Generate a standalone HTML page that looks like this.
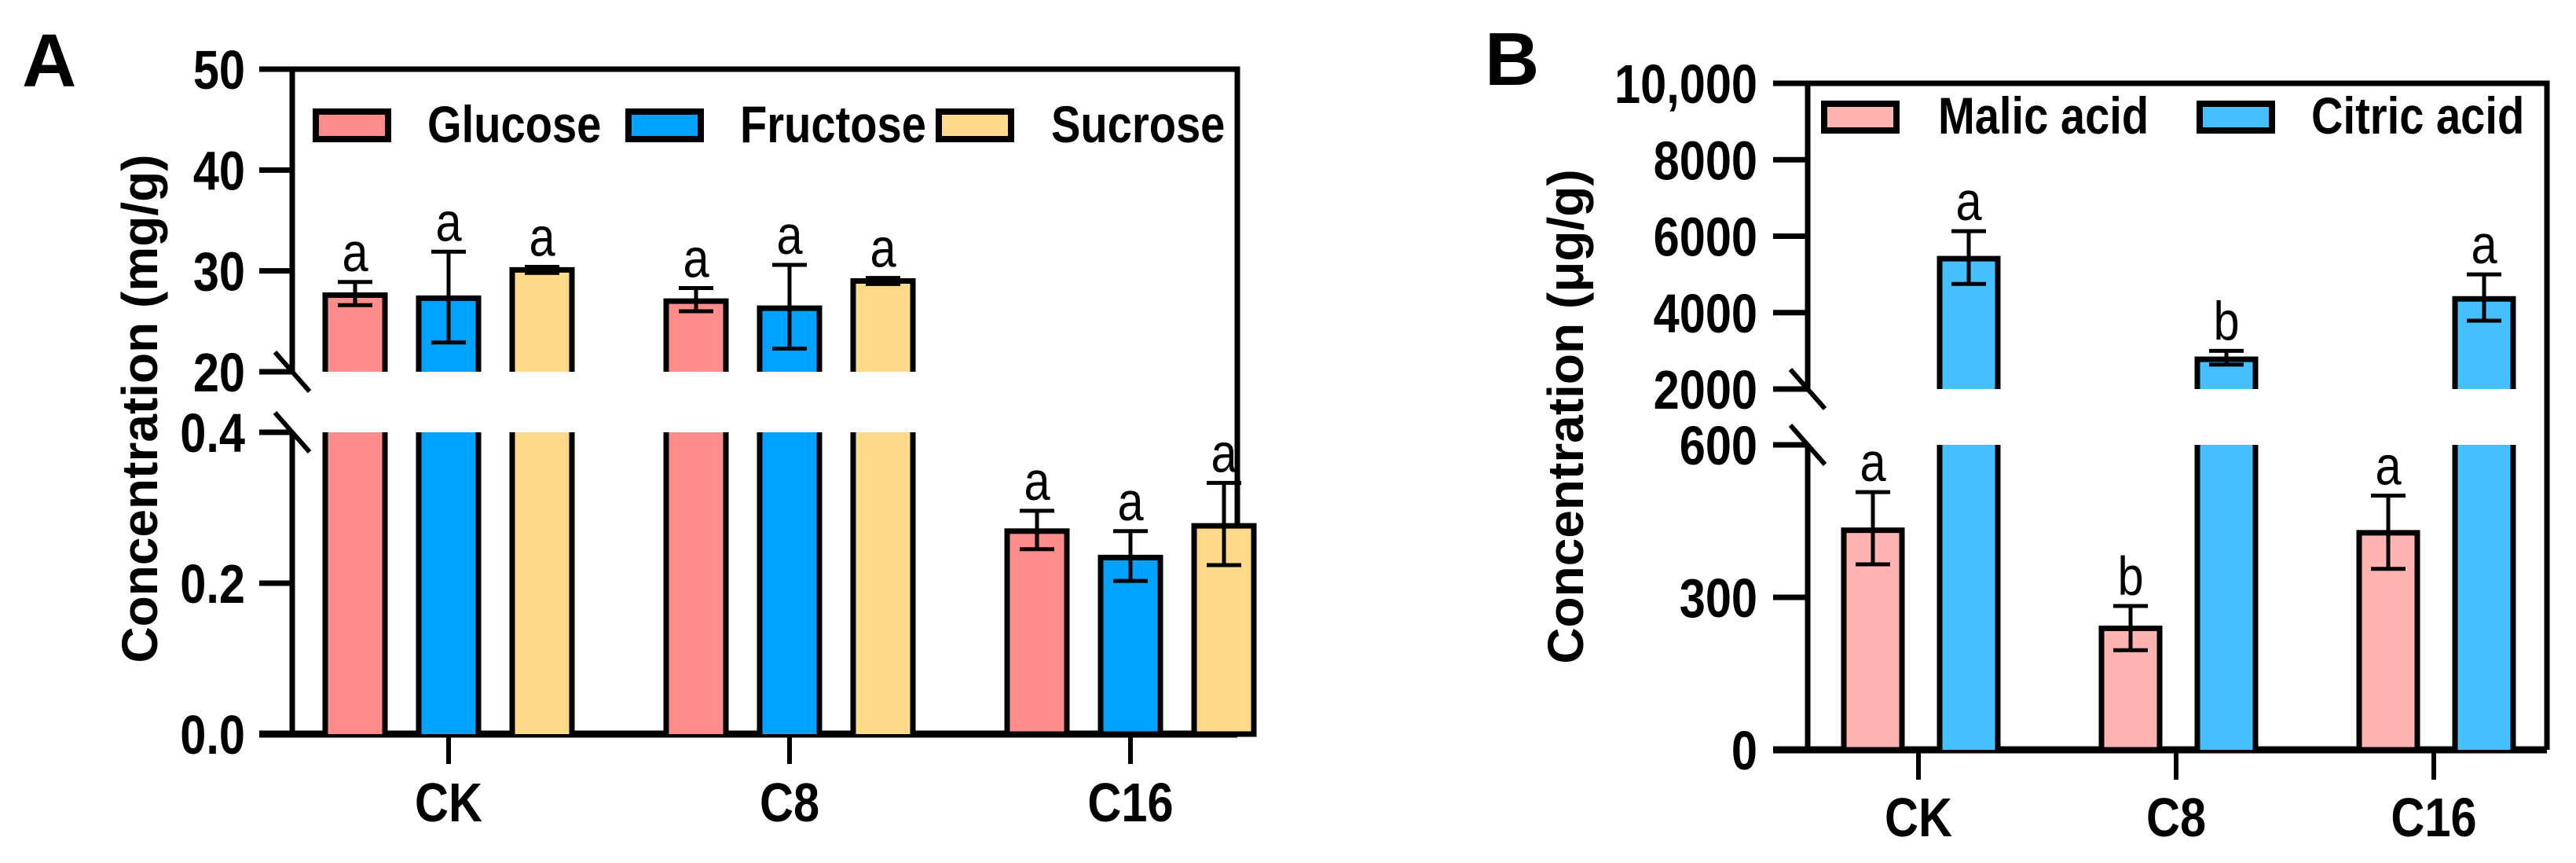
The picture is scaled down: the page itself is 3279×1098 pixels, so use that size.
<!DOCTYPE html>
<html><head><meta charset="utf-8"><style>
body{margin:0;background:#fff}
svg{display:block}
text{font-family:"Liberation Sans",Arial,sans-serif}
.tk{font-weight:bold;font-size:70px}
.lab{font-size:70px}
</style></head><body>
<svg id="chart" width="3279" height="1098" viewBox="0 0 3279 1098">
<text x="28" y="110" font-size="96" font-weight="bold">A</text>
<text x="1890" y="108" font-size="96" font-weight="bold">B</text>
<text transform="translate(200,520) rotate(-90)" text-anchor="middle" font-size="64" font-weight="bold">Concentration (mg/g)</text>
<text transform="translate(2015,530) rotate(-90)" text-anchor="middle" font-size="64" font-weight="bold">Concentration (μg/g)</text>
<g id="A"></g><g id="B"></g>
</svg>
<script>
const groups=["CK","C8","C16"];
// Panel A
const sugarSeries=["Glucose","Fructose","Sucrose"];
const glucose=[27.6,27.0,0.269];
const glucoseHi=[28.9,28.3,0.296];
const glucoseLo=[26.6,26.0,0.245];
const fructose=[27.3,26.3,0.234];
const fructoseHi=[31.9,30.6,0.269];
const fructoseLo=[22.9,22.3,0.203];
const sucrose=[30.1,29.0,0.276];
const sucroseHi=[30.4,29.3,0.333];
const sucroseLo=[29.8,28.7,0.224];
const sugarLetters=[["a","a","a"],["a","a","a"],["a","a","a"]];
const aUpperTicks=[20,30,40,50];
const aLowerTicks=[0.0,0.2,0.4];
// Panel B
const acidSeries=["Malic acid","Citric acid"];
const malic=[432,239,427];
const malicHi=[507,283,500];
const malicLo=[365,196,356];
const citric=[5412,2780,4360];
const citricHi=[6130,3000,5000];
const citricLo=[4750,2640,3790];
const acidLetters=[["a","b","a"],["a","b","a"]];
const bUpperTicks=[2000,4000,6000,8000,10000];
const bLowerTicks=[0,300,600];

const NS="http://www.w3.org/2000/svg";
function mk(p,tag,attrs){const e=document.createElementNS(NS,tag);for(const k in attrs)e.setAttribute(k,attrs[k]);p.appendChild(e);return e;}
function ctext(p,x,y,anchor,cls,str,sx,extra){
  const e=mk(p,'text',Object.assign({x:0,y:0,'text-anchor':anchor,transform:`translate(${x},${y}) scale(${sx},1)`},cls?{class:cls}:{},extra||{}));
  e.textContent=str;return e;
}

function panel(cfg){
  const g=document.getElementById(cfg.id);
  const yL=v=>cfg.base-(v-cfg.lMin)*(cfg.base-cfg.lTop)/(cfg.lMax-cfg.lMin);
  const yU=v=>cfg.uBot-(v-cfg.uMin)*(cfg.uBot-cfg.uTop)/(cfg.uMax-cfg.uMin);
  const yv=v=>v<=cfg.lMax?yL(v):yU(v);
  const xC=i=>cfg.x0+i*cfg.gap;
  let e;
  e=mk(g,'line',{x1:cfg.ax,y1:cfg.base,x2:cfg.ax,y2:cfg.lTop,stroke:'#000','stroke-width':7});
  
  e=mk(g,'line',{x1:cfg.ax,y1:cfg.uBot,x2:cfg.ax,y2:cfg.uTop,stroke:'#000','stroke-width':7});
  
  e=mk(g,'polyline',{points:`${cfg.ax-cfg.tick},${cfg.uTop} ${cfg.right},${cfg.uTop} ${cfg.right},${cfg.base}`,fill:'none',stroke:'#000','stroke-width':7});
  
  e=mk(g,'line',{x1:cfg.ax-cfg.tick,y1:cfg.base,x2:cfg.right,y2:cfg.base,stroke:'#000','stroke-width':9});
  
  [cfg.uBot,cfg.lTop].forEach(yc=>{
    e=mk(g,'line',{x1:cfg.ax-22,y1:yc-25,x2:cfg.ax+22,y2:yc+25,stroke:'#000','stroke-width':6});
    
  });
  cfg.lTicks.forEach((v,i)=>{
    if(i>0){e=mk(g,'line',{x1:cfg.ax-cfg.tick,y1:yL(v),x2:cfg.ax,y2:yL(v),stroke:'#000','stroke-width':7});
    }
    e=ctext(g,cfg.lx,yL(v)+25,'end','tk',cfg.fmtL(v),0.85);
    
  });
  cfg.uTicks.forEach(v=>{
    e=mk(g,'line',{x1:cfg.ax-cfg.tick,y1:yU(v),x2:cfg.ax,y2:yU(v),stroke:'#000','stroke-width':7});
    
    e=ctext(g,cfg.lx,yU(v)+25,'end','tk',cfg.fmtU(v),0.85);
    
  });
  groups.forEach((gname,i)=>{
    e=mk(g,'line',{x1:xC(i),y1:cfg.base,x2:xC(i),y2:cfg.base+38,stroke:'#000','stroke-width':6});
    
    e=ctext(g,xC(i),cfg.xly,'middle','tk',gname,0.85);
    
  });
  cfg.series.forEach((s,si)=>{
    s.vals.forEach((v,i)=>{
      const cx=xC(i)+cfg.offs[si],x=cx-cfg.bw/2;
      if(v<=cfg.lMax){
        e=mk(g,'rect',{x:x,y:yL(v),width:cfg.bw,height:cfg.base-yL(v),fill:s.color,stroke:'#000','stroke-width':7});
        
      }else{
        e=mk(g,'rect',{x:x,y:cfg.lTop,width:cfg.bw,height:cfg.base-cfg.lTop,fill:s.color});
        
        mk(g,'path',{d:`M${x},${cfg.lTop}V${cfg.base}M${x+cfg.bw},${cfg.lTop}V${cfg.base}`,stroke:'#000','stroke-width':7,fill:'none'});
        e=mk(g,'rect',{x:x,y:yU(v),width:cfg.bw,height:cfg.uBot-yU(v),fill:s.color});
        
        mk(g,'path',{d:`M${x},${cfg.uBot}V${yU(v)}H${x+cfg.bw}V${cfg.uBot}`,stroke:'#000','stroke-width':7,fill:'none'});
      }
      const hi=yv(s.hi[i]),lo=yv(s.lo[i]);
      e=mk(g,'path',{d:`M${cx},${hi}V${lo}M${cx-22},${hi}H${cx+22}M${cx-22},${lo}H${cx+22}`,stroke:'#000','stroke-width':5,fill:'none'});
      
      e=ctext(g,cx,hi-14,'middle','lab',s.letters[i],0.85);
      
    });
    const L=cfg.legend[si];
    e=mk(g,'rect',{x:L[0],y:cfg.legY,width:cfg.legW,height:cfg.legH,fill:s.color,stroke:'#000','stroke-width':8});
    
    e=ctext(g,L[1],cfg.legY+cfg.legH+4,'start',null,s.name,0.85,{'font-size':66,'font-weight':'bold'});
    
  });
}
panel({id:'A',ax:372,tick:42,right:1575,base:934,lMin:0,lMax:0.4,lTop:550,uMin:20,uMax:50,uBot:473,uTop:88,
  lTicks:aLowerTicks,uTicks:aUpperTicks,fmtL:v=>v.toFixed(1),fmtU:v=>String(v),lx:312,
  x0:571,gap:434,offs:[-119,0,119],bw:76,xly:1045,
  series:[{key:'glucose',name:sugarSeries[0],vals:glucose,hi:glucoseHi,lo:glucoseLo,color:'#FF8C8A',letters:sugarLetters[0]},
          {key:'fructose',name:sugarSeries[1],vals:fructose,hi:fructoseHi,lo:fructoseLo,color:'#00A2FF',letters:sugarLetters[1]},
          {key:'sucrose',name:sugarSeries[2],vals:sucrose,hi:sucroseHi,lo:sucroseLo,color:'#FFD98A',letters:sugarLetters[2]}],
  legend:[[402,544],[800,942],[1195,1338]],legY:142,legW:92,legH:35});
panel({id:'B',ax:2301,tick:44,right:3242,base:954,lMin:0,lMax:600,lTop:566,uMin:2000,uMax:10000,uBot:495,uTop:106,
  lTicks:bLowerTicks,uTicks:bUpperTicks,fmtL:v=>String(v),fmtU:v=>v===10000?'10,000':String(v),lx:2237,
  x0:2442,gap:328,offs:[-58,64],bw:74,xly:1064,
  series:[{key:'malic',name:acidSeries[0],vals:malic,hi:malicHi,lo:malicLo,color:'#FFB3B3',letters:acidLetters[0]},
          {key:'citric',name:acidSeries[1],vals:citric,hi:citricHi,lo:citricLo,color:'#45BFFF',letters:acidLetters[1]}],
  legend:[[2322,2467],[2800,2942]],legY:132,legW:92,legH:34});
</script>
</body></html>
